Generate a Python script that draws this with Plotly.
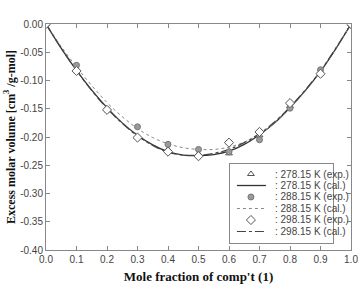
import plotly.graph_objects as go

x_exp = [0.0, 0.1, 0.2, 0.3, 0.4, 0.5, 0.6, 0.7, 0.8, 0.9, 1.0]
v278_exp = [0.0, -0.080, -0.150, -0.200, -0.222, -0.230, -0.229, -0.197, -0.145, -0.085, 0.0]
v288_exp = [0.0, -0.073, -0.152, -0.182, -0.213, -0.222, -0.226, -0.205, -0.149, -0.081, 0.0]
v298_exp = [0.0, -0.083, -0.152, -0.201, -0.226, -0.234, -0.210, -0.191, -0.140, -0.088, 0.0]

x_cal = [0.0, 0.05, 0.1, 0.15, 0.2, 0.25, 0.3, 0.35, 0.4, 0.45, 0.5,
         0.55, 0.6, 0.65, 0.7, 0.75, 0.8, 0.85, 0.9, 0.95, 1.0]
v278_cal = [0.0, -0.043, -0.082, -0.117, -0.148, -0.175, -0.197, -0.214, -0.226, -0.232, -0.233,
            -0.231, -0.225, -0.213, -0.196, -0.175, -0.148, -0.118, -0.084, -0.044, 0.0]
v288_cal = [0.0, -0.040, -0.076, -0.109, -0.139, -0.164, -0.185, -0.201, -0.212, -0.219, -0.222,
            -0.222, -0.218, -0.209, -0.195, -0.175, -0.149, -0.119, -0.084, -0.044, 0.0]
v298_cal = [0.0, -0.043, -0.082, -0.118, -0.149, -0.176, -0.198, -0.215, -0.227, -0.232, -0.232,
            -0.229, -0.222, -0.210, -0.194, -0.173, -0.147, -0.117, -0.083, -0.043, 0.0]

x_ticks = [0.0, 0.1, 0.2, 0.3, 0.4, 0.5, 0.6, 0.7, 0.8, 0.9, 1.0]
x_ticklabels = ["0.0", "0.1", "0.2", "0.3", "0.4", "0.5", "0.6", "0.7", "0.8", "0.9", "1.0"]
y_ticks = [0.0, -0.05, -0.10, -0.15, -0.20, -0.25, -0.30, -0.35, -0.40]
y_ticklabels = ["0.00", "-0.05", "-0.10", "-0.15", "-0.20", "-0.25", "-0.30", "-0.35", "-0.40"]

legend_labels = [": 278.15 K (exp.)", ": 278.15 K (cal.)", ": 288.15 K (exp.)",
                 ": 288.15 K (cal.)", ": 298.15 K (exp.)", ": 298.15 K (cal.)"]

SANS = "Liberation Sans Narrow, Arial Narrow, Liberation Sans, Arial"
SERIF = "Liberation Serif, Times New Roman, serif"

m278 = dict(symbol="triangle-up", size=6, color="white", line=dict(color="#555555", width=1))
m288 = dict(symbol="circle", size=6, color="#9a9a9a", line=dict(color="#777777", width=1))
m298 = dict(symbol="diamond", size=7, color="white", line=dict(color="#555555", width=1))
l278 = dict(color="#333333", width=1.3)
l288 = dict(color="#888888", width=1, dash="dot")
l298 = dict(color="#444444", width=1.2, dash="dashdot")

fig = go.Figure()
fig.add_trace(go.Scatter(x=x_cal, y=v278_cal, mode="lines", line=dict(shape="spline", **l278)))
fig.add_trace(go.Scatter(x=x_cal, y=v288_cal, mode="lines", line=dict(shape="spline", **l288)))
fig.add_trace(go.Scatter(x=x_cal, y=v298_cal, mode="lines", line=dict(shape="spline", **l298)))
fig.add_trace(go.Scatter(x=x_exp, y=v278_exp, mode="markers", marker=m278))
fig.add_trace(go.Scatter(x=x_exp, y=v288_exp, mode="markers", marker=m288))
fig.add_trace(go.Scatter(x=x_exp, y=v298_exp, mode="markers", marker=m298))

# custom legend drawn in its own small subplot (pixel-like units)
leg_w, leg_h = 103, 79
row_y = [10 + 11.5 * i for i in range(6)]
sym_x, line_x0, line_x1, text_x = 21, 7, 36, 43
styles = [("m", m278), ("l", l278), ("m", m288), ("l", l288), ("m", m298), ("l", l298)]
for (kind, st), ry in zip(styles, row_y):
    if kind == "m":
        fig.add_trace(go.Scatter(x=[sym_x], y=[ry], mode="markers", marker=st,
                                 xaxis="x2", yaxis="y2"))
    else:
        fig.add_trace(go.Scatter(x=[line_x0, line_x1], y=[ry, ry], mode="lines", line=st,
                                 xaxis="x2", yaxis="y2"))
for lab, ry in zip(legend_labels, row_y):
    fig.add_annotation(x=text_x, y=ry, xref="x2", yref="y2", text=lab, showarrow=False,
                       xanchor="left", yanchor="middle",
                       font=dict(family=SANS, size=10, color="#444444"))

axis_common = dict(showgrid=False, zeroline=False, showline=True, linecolor="#888888",
                   linewidth=1, mirror="ticks", ticks="inside", ticklen=4, tickcolor="#888888",
                   automargin=False, ticklabeloverflow="allow",
                   tickfont=dict(family=SANS, size=10, color="#444444"))

fig.update_layout(
    xaxis=dict(range=[0, 1], tickvals=x_ticks, ticktext=x_ticklabels,
               title=dict(text="<b>Mole fraction of comp't (1)</b>", standoff=10,
                          font=dict(family=SERIF, size=13, color="#111111")),
               **axis_common),
    yaxis=dict(range=[-0.40, 0.0], tickvals=y_ticks, ticktext=y_ticklabels,
               title=dict(text="<b>Excess molar volume [cm<sup>3</sup> /g-mol]</b>", standoff=2,
                          font=dict(family=SERIF, size=12, color="#111111")),
               **axis_common),
    xaxis2=dict(domain=[0.603, 0.941], anchor="y2", range=[0, leg_w], showgrid=False,
                zeroline=False, showticklabels=False, ticks="", showline=True, mirror=True,
                linecolor="#888888", linewidth=1, fixedrange=True),
    yaxis2=dict(domain=[0.031, 0.3805], anchor="x2", range=[leg_h, 0], showgrid=False,
                zeroline=False, showticklabels=False, ticks="", showline=True, mirror=True,
                linecolor="#888888", linewidth=1, fixedrange=True),
    width=358, height=284,
    margin=dict(l=46, r=7, t=24, b=34),
    paper_bgcolor="white", plot_bgcolor="white",
    showlegend=False,
)

fig.write_html("out.html")
